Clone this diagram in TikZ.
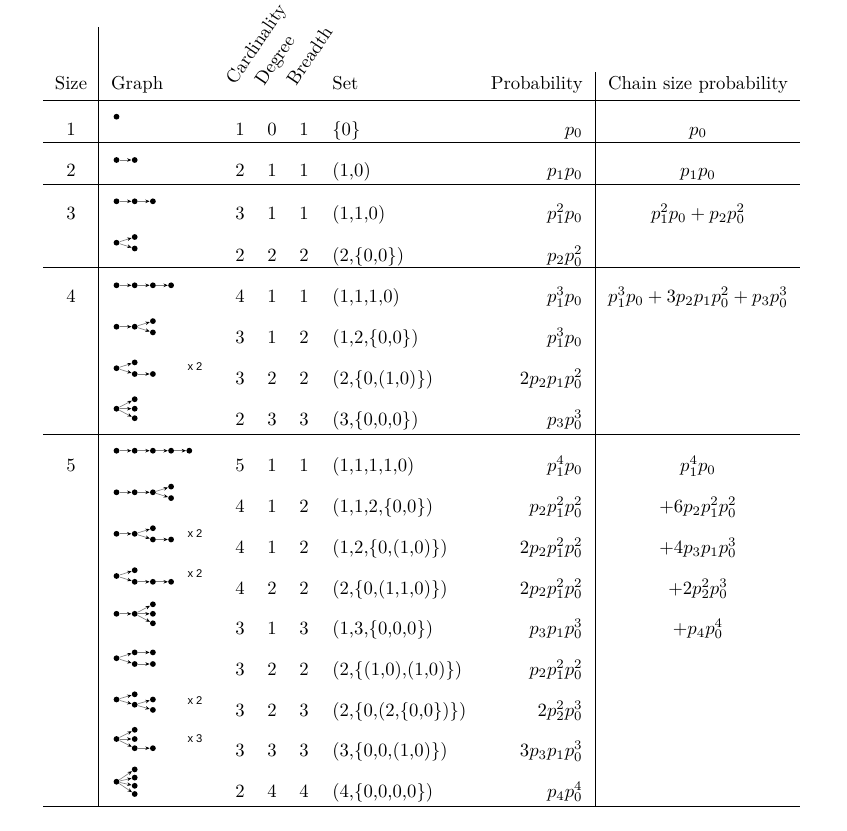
\documentclass[tikz,border=0pt]{standalone}
\usepackage{fontspec}
\newfontfamily\multfont{Liberation Sans}
\usetikzlibrary{graphs}
\usetikzlibrary{arrows.meta}
\tikzset{
  vnode/.style= {circle, fill, inner sep=0, minimum size=3.1pt},
  rule/.style= {line width=0.5pt},
  head/.style= {anchor=base, inner sep=0},
  tilt/.style= {anchor=base west, inner sep=0, rotate=56},
  num/.style= {anchor=base, inner sep=0},
  setl/.style= {anchor=base west, inner sep=0},
  prob/.style= {anchor=base east, inner sep=0},
  mult/.style= {font=\multfont\fontsize{6}{7}\selectfont},
}

\begin{document}
\begin{tikzpicture}[x=0.535pt, y=-0.535pt, >={Stealth[length=2.3pt, width=1.9pt, color=black]}]
  \useasboundingbox (0,0) rectangle (847,831);
  % rules
  \draw [rule] (98.3,27) -- (98.3,806.7);
  \draw [rule] (595.7,72) -- (595.7,806.7);
  \draw [rule] (43,100) -- (800,100);
  \draw [rule] (43,142.3) -- (800,142.3);
  \draw [rule] (43,184.3) -- (800,184.3);
  \draw [rule] (43,267.3) -- (800,267.3);
  \draw [rule] (43,434.3) -- (800,434.3);
  \draw [rule] (43,806.7) -- (800,806.7);

  % header
  \node [head] (hsize) at (71,89) {Size};
  \node [setl] (hgraph) at (110.7,89) {Graph};
  \node [tilt] (hcard) at (235,86) {Cardinality};
  \node [tilt] (hdeg) at (264,87) {Degree};
  \node [tilt] (hbr) at (296,87) {Breadth};
  \node [setl] (hset) at (332,89) {Set};
  \node [prob] (hprob) at (583,89) {Probability};
  \node [head] (hchain) at (698,89) {Chain size probability};

  % sizes
  \node [num] (s1) at (71,135) {1};
  \node [num] (s2) at (71,176.7) {2};
  \node [num] (s3) at (71,219.3) {3};
  \node [num] (s4) at (71,302.7) {4};
  \node [num] (s5) at (71,471.7) {5};

  % rows
  \node [num] (card1) at (240,135) {1}; \node [num] (deg1) at (272,135) {0}; \node [num] (br1) at (304,135) {1};
  \node [setl] (set1) at (332,135) {\{0\}}; \node [prob] (prob1) at (583,135) {$p_0$};
  \node [num] (card2) at (240,176.7) {2}; \node [num] (deg2) at (272,176.7) {1}; \node [num] (br2) at (304,176.7) {1};
  \node [setl] (set2) at (332,176.7) {(1,0)}; \node [prob] (prob2) at (583,176.7) {$p_1p_0$};
  \node [num] (card3) at (240,219.3) {3}; \node [num] (deg3) at (272,219.3) {1}; \node [num] (br3) at (304,219.3) {1};
  \node [setl] (set3) at (332,219.3) {(1,1,0)}; \node [prob] (prob3) at (583,219.3) {$p_1^2p_0$};
  \node [num] (card4) at (240,261.7) {2}; \node [num] (deg4) at (272,261.7) {2}; \node [num] (br4) at (304,261.7) {2};
  \node [setl] (set4) at (332,261.7) {(2,\{0,0\})}; \node [prob] (prob4) at (583,261.7) {$p_2p_0^2$};
  \node [num] (card5) at (240,302.7) {4}; \node [num] (deg5) at (272,302.7) {1}; \node [num] (br5) at (304,302.7) {1};
  \node [setl] (set5) at (332,302.7) {(1,1,1,0)}; \node [prob] (prob5) at (583,302.7) {$p_1^3p_0$};
  \node [num] (card6) at (240,343.3) {3}; \node [num] (deg6) at (272,343.3) {1}; \node [num] (br6) at (304,343.3) {2};
  \node [setl] (set6) at (332,343.3) {(1,2,\{0,0\})}; \node [prob] (prob6) at (583,343.3) {$p_1^3p_0$};
  \node [num] (card7) at (240,384.3) {3}; \node [num] (deg7) at (272,384.3) {2}; \node [num] (br7) at (304,384.3) {2};
  \node [setl] (set7) at (332,384.3) {(2,\{0,(1,0)\})}; \node [prob] (prob7) at (583,384.3) {$2p_2p_1p_0^2$};
  \node [num] (card8) at (240,425) {2}; \node [num] (deg8) at (272,425) {3}; \node [num] (br8) at (304,425) {3};
  \node [setl] (set8) at (332,425) {(3,\{0,0,0\})}; \node [prob] (prob8) at (583,425) {$p_3p_0^3$};
  \node [num] (card9) at (240,471.7) {5}; \node [num] (deg9) at (272,471.7) {1}; \node [num] (br9) at (304,471.7) {1};
  \node [setl] (set9) at (332,471.7) {(1,1,1,1,0)}; \node [prob] (prob9) at (583,471.7) {$p_1^4p_0$};
  \node [num] (card10) at (240,512.7) {4}; \node [num] (deg10) at (272,512.7) {1}; \node [num] (br10) at (304,512.7) {2};
  \node [setl] (set10) at (332,512.7) {(1,1,2,\{0,0\})}; \node [prob] (prob10) at (583,512.7) {$p_2p_1^2p_0^2$};
  \node [num] (card11) at (240,553.3) {4}; \node [num] (deg11) at (272,553.3) {1}; \node [num] (br11) at (304,553.3) {2};
  \node [setl] (set11) at (332,553.3) {(1,2,\{0,(1,0)\})}; \node [prob] (prob11) at (583,553.3) {$2p_2p_1^2p_0^2$};
  \node [num] (card12) at (240,594) {4}; \node [num] (deg12) at (272,594) {2}; \node [num] (br12) at (304,594) {2};
  \node [setl] (set12) at (332,594) {(2,\{0,(1,1,0)\})}; \node [prob] (prob12) at (583,594) {$2p_2p_1^2p_0^2$};
  \node [num] (card13) at (240,634.3) {3}; \node [num] (deg13) at (272,634.3) {1}; \node [num] (br13) at (304,634.3) {3};
  \node [setl] (set13) at (332,634.3) {(1,3,\{0,0,0\})}; \node [prob] (prob13) at (583,634.3) {$p_3p_1p_0^3$};
  \node [num] (card14) at (240,675) {3}; \node [num] (deg14) at (272,675) {2}; \node [num] (br14) at (304,675) {2};
  \node [setl] (set14) at (332,675) {(2,\{(1,0),(1,0)\})}; \node [prob] (prob14) at (583,675) {$p_2p_1^2p_0^2$};
  \node [num] (card15) at (240,716) {3}; \node [num] (deg15) at (272,716) {2}; \node [num] (br15) at (304,716) {3};
  \node [setl] (set15) at (332,716) {(2,\{0,(2,\{0,0\})\})}; \node [prob] (prob15) at (583,716) {$2p_2^2p_0^3$};
  \node [num] (card16) at (240,756.7) {3}; \node [num] (deg16) at (272,756.7) {3}; \node [num] (br16) at (304,756.7) {3};
  \node [setl] (set16) at (332,756.7) {(3,\{0,0,(1,0)\})}; \node [prob] (prob16) at (583,756.7) {$3p_3p_1p_0^3$};
  \node [num] (card17) at (240,797.3) {2}; \node [num] (deg17) at (272,797.3) {4}; \node [num] (br17) at (304,797.3) {4};
  \node [setl] (set17) at (332,797.3) {(4,\{0,0,0,0\})}; \node [prob] (prob17) at (583,797.3) {$p_4p_0^4$};

  % chain size probability
  \node [num] (chain1) at (698,135) {$p_0$};
  \node [num] (chain2) at (698,176.7) {$p_1p_0$};
  \node [num] (chain3) at (698,219.3) {$p_1^2p_0+p_2p_0^2$};
  \node [num] (chain4) at (698,302.7) {$p_1^3p_0+3p_2p_1p_0^2+p_3p_0^3$};
  \node [num] (chain5) at (698,471.7) {$p_1^4p_0$};
  \node [num] (chain6) at (698,512.7) {$+6p_2p_1^2p_0^2$};
  \node [num] (chain7) at (698,553.3) {$+4p_3p_1p_0^3$};
  \node [num] (chain8) at (698,594) {$+2p_2^2p_0^3$};
  \node [num] (chain9) at (698,634.3) {$+p_4p_0^4$};

  % graphs
  \node [vnode] (a1) at (116.5,116.7) {};
  \node [vnode] (b1) at (116.5,160) {}; \node [vnode] (b2) at (134.7,160) {};
  \node [vnode] (c1) at (116.5,201.3) {}; \node [vnode] (c2) at (134.7,201.3) {}; \node [vnode] (c3) at (152.9,201.3) {};
  \node [vnode] (d1) at (116.5,242.7) {}; \node [vnode] (d2) at (134.7,237) {}; \node [vnode] (d3) at (134.7,248.5) {};
  \node [vnode] (e1) at (116.5,285.3) {}; \node [vnode] (e2) at (134.7,285.3) {}; \node [vnode] (e3) at (152.9,285.3) {}; \node [vnode] (e4) at (171.1,285.3) {};
  \node [vnode] (f1) at (116.5,326.7) {}; \node [vnode] (f2) at (134.7,326.7) {}; \node [vnode] (f3) at (152.9,321.1) {}; \node [vnode] (f4) at (152.9,332.4) {};
  \node [vnode] (g1) at (116.5,368.2) {}; \node [vnode] (g2) at (134.7,362.4) {}; \node [vnode] (g3) at (134.7,374) {}; \node [vnode] (g4) at (152.9,374) {};
  \node [vnode] (h1) at (116.5,408.7) {}; \node [vnode] (h2) at (134.7,399.2) {}; \node [vnode] (h3) at (134.7,408.7) {}; \node [vnode] (h4) at (134.7,418.2) {};
  \node [vnode] (i1) at (116.5,450.7) {}; \node [vnode] (i2) at (134.7,450.7) {}; \node [vnode] (i3) at (152.9,450.7) {}; \node [vnode] (i4) at (171.1,450.7) {}; \node [vnode] (i5) at (189.3,450.7) {};
  \node [vnode] (j1) at (116.5,492.3) {}; \node [vnode] (j2) at (134.7,492.3) {}; \node [vnode] (j3) at (152.9,492.3) {}; \node [vnode] (j4) at (171.1,486.6) {}; \node [vnode] (j5) at (171.1,498.1) {};
  \node [vnode] (k1) at (116.5,533.8) {}; \node [vnode] (k2) at (134.7,533.8) {}; \node [vnode] (k3) at (152.9,528.2) {}; \node [vnode] (k4) at (152.9,539.5) {}; \node [vnode] (k5) at (171.1,539.5) {};
  \node [vnode] (l1) at (116.5,576) {}; \node [vnode] (l2) at (134.7,570.2) {}; \node [vnode] (l3) at (134.7,581.8) {}; \node [vnode] (l4) at (152.9,581.8) {}; \node [vnode] (l5) at (171.1,581.8) {};
  \node [vnode] (m1) at (116.5,613.8) {}; \node [vnode] (m2) at (134.7,613.8) {}; \node [vnode] (m3) at (152.9,604.3) {}; \node [vnode] (m4) at (152.9,613.8) {}; \node [vnode] (m5) at (152.9,623.3) {};
  \node [vnode] (n1) at (116.5,658.2) {}; \node [vnode] (n2) at (134.7,652.4) {}; \node [vnode] (n3) at (134.7,664) {}; \node [vnode] (n4) at (152.9,652.4) {}; \node [vnode] (n5) at (152.9,664) {};
  \node [vnode] (o1) at (116.5,699.5) {}; \node [vnode] (o2) at (134.7,694.3) {}; \node [vnode] (o3) at (134.7,704.7) {}; \node [vnode] (o4) at (152.9,699.5) {}; \node [vnode] (o5) at (152.9,709.9) {};
  \node [vnode] (q1) at (116.5,739) {}; \node [vnode] (q2) at (134.7,729.8) {}; \node [vnode] (q3) at (134.7,739) {}; \node [vnode] (q4) at (134.7,748.2) {}; \node [vnode] (q5) at (152.9,748.2) {};
  \node [vnode] (r1) at (116.5,781.7) {}; \node [vnode] (r2) at (134.7,769.4) {}; \node [vnode] (r3) at (134.7,777.6) {}; \node [vnode] (r4) at (134.7,785.8) {}; \node [vnode] (r5) at (134.7,794) {};

  \graph [edges={gray, line width=0.35pt}] {
    (b1) -> (b2) ;
    (c1) -> (c2) -> (c3) ;
    (d1) -> (d2) ; (d1) -> (d3) ;
    (e1) -> (e2) -> (e3) -> (e4) ;
    (f1) -> (f2) -> (f3) ; (f2) -> (f4) ;
    (g1) -> (g2) ; (g1) -> (g3) -> (g4) ;
    (h1) -> (h2) ; (h1) -> (h3) ; (h1) -> (h4) ;
    (i1) -> (i2) -> (i3) -> (i4) -> (i5) ;
    (j1) -> (j2) -> (j3) -> (j4) ; (j3) -> (j5) ;
    (k1) -> (k2) -> (k3) ; (k2) -> (k4) -> (k5) ;
    (l1) -> (l2) ; (l1) -> (l3) -> (l4) -> (l5) ;
    (m1) -> (m2) -> (m3) ; (m2) -> (m4) ; (m2) -> (m5) ;
    (n1) -> (n2) -> (n4) ; (n1) -> (n3) -> (n5) ;
    (o1) -> (o2) ; (o1) -> (o3) -> (o4) ; (o3) -> (o5) ;
    (q1) -> (q2) ; (q1) -> (q3) ; (q1) -> (q4) -> (q5) ;
    (r1) -> (r2) ; (r1) -> (r3) ; (r1) -> (r4) ; (r1) -> (r5) ;
  } ;

  % multiplicities
  \node [mult] (x1) at (195,367) {x 2};
  \node [mult] (x2) at (195,533.5) {x 2};
  \node [mult] (x3) at (195,574) {x 2};
  \node [mult] (x4) at (195,700.5) {x 2};
  \node [mult] (x5) at (195,739) {x 3};
\end{tikzpicture}
\end{document}
